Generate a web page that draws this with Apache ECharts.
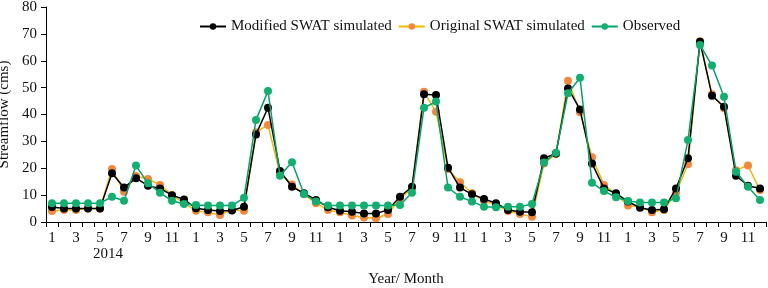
<!DOCTYPE html>
<html>
<head>
<meta charset="utf-8">
<script src="https://cdn.jsdelivr.net/npm/echarts@6/dist/echarts.min.js"></script>
<style>
  html, body { margin: 0; padding: 0; background: #fff; }
  #main { width: 768px; height: 288px; }
</style>
</head>
<body>
<div id="main"></div>
<script>
// months 2014-2018
var months = [];
for (var y = 0; y < 5; y++) {
    for (var m = 1; m <= 12; m++) months.push(String(m));
}

var modified = [
    5.6, 5, 5, 5, 5, 18.1, 12.8, 16.3, 13.5, 12.5, 10, 8.4,
    5.1, 4.5, 4.1, 4.3, 5.7, 32.6, 42.5, 19, 13.1, 10.7, 8.2, 5.5,
    4.2, 3.8, 3.2, 3.2, 4.5, 9.4, 13.1, 47.5, 47.3, 20.2, 12.8, 10.3,
    8.6, 7, 4.5, 3.8, 3.6, 23.7, 25.5, 49.7, 41.9, 21.8, 12.5, 10.7,
    7.6, 5.3, 4.5, 4.7, 12.5, 23.7, 67.1, 47, 42.9, 17.2, 13.5, 12.5
];
var original = [
    4.1, 4.5, 4.5, 5, 5, 19.7, 11.3, 17.1, 16, 13.8, 10, 7,
    4.2, 3.6, 2.6, 4.5, 4.2, 33.4, 36.1, 18, 14, 10.3, 7, 4.5,
    3.6, 2.4, 1.7, 1.4, 3, 8.8, 12.5, 48.5, 41, 19.7, 14.8, 10.7,
    7.8, 6.5, 4.1, 3, 2, 21.8, 25.3, 52.6, 40.8, 24.1, 13.8, 10.4,
    6.1, 5.7, 3.6, 4.5, 10.9, 21.5, 67.3, 47.5, 42.3, 19.3, 21, 11.9
];
var observed = [
    7, 7, 7, 7, 7, 9.4, 7.9, 21, 14.4, 10.9, 7.9, 6.7,
    6.3, 6.1, 6.1, 6.1, 9, 38, 48.7, 17.2, 22.2, 10.4, 7.6, 6.1,
    6.1, 6.1, 6.1, 6.1, 6.1, 6.3, 10.9, 42.5, 44.8, 12.8, 9.4, 7.6,
    5.7, 5.5, 5.7, 5.7, 6.7, 22.1, 25.8, 47.9, 53.7, 14.6, 11.5, 9.2,
    7.8, 7.3, 7.3, 7.3, 8.8, 30.5, 65.9, 58.2, 46.6, 18.7, 13.1, 8.2
];

var seriesNames = ['Modified SWAT simulated', 'Original SWAT simulated', 'Observed'];
var font = '"Liberation Serif", "Times New Roman", serif';

var myChart = echarts.init(document.getElementById('main'));
var option = {
    animation: false,
    textStyle: { fontFamily: font },
    legend: {
        data: seriesNames,
        left: 194,
        top: 14,
        itemWidth: 26,
        itemHeight: 8,
        itemGap: 6,
        textStyle: { fontFamily: font, fontSize: 15, color: '#111' }
    },
    grid: { left: 46, right: 2, top: 7, bottom: 66, outerBoundsMode: 'none' },
    xAxis: {
        type: 'category',
        data: months,
        boundaryGap: true,
        name: 'Year/ Month',
        nameLocation: 'middle',
        nameGap: 50,
        nameTextStyle: { fontFamily: font, fontSize: 15, color: '#111' },
        axisLine: { lineStyle: { color: '#000', width: 1 } },
        axisTick: { show: true, interval: 0, length: 5, lineStyle: { color: '#000' } },
        axisLabel: { interval: 1, margin: 9, fontFamily: font, fontSize: 15, color: '#111' },
        splitLine: { show: false }
    },
    yAxis: {
        type: 'value',
        min: 0,
        max: 80,
        interval: 10,
        name: 'Streamflow (cms)',
        nameLocation: 'middle',
        nameGap: 34,
        nameTextStyle: { fontFamily: font, fontSize: 15, color: '#111' },
        axisLine: { show: true, lineStyle: { color: '#000', width: 1 } },
        axisTick: { show: true, length: 5, lineStyle: { color: '#000' } },
        axisLabel: { margin: 9, fontFamily: font, fontSize: 15, color: '#111' },
        splitLine: { show: false }
    },
    graphic: [{
        type: 'text',
        left: 93,
        top: 247,
        style: { text: '2014', font: '15px ' + font, fill: '#111' }
    }],
    series: [{
        name: seriesNames[0],
        type: 'line',
        data: modified,
        symbol: 'circle',
        symbolSize: 8,
        showAllSymbol: true,
        lineStyle: { color: '#000', width: 1.5 },
        itemStyle: { color: '#000' },
        z: 3
    }, {
        name: seriesNames[1],
        type: 'line',
        data: original,
        symbol: 'circle',
        symbolSize: 8,
        showAllSymbol: true,
        lineStyle: { color: '#f5b800', width: 1.5 },
        itemStyle: { color: '#f5873a' },
        z: 2
    }, {
        name: seriesNames[2],
        type: 'line',
        data: observed,
        symbol: 'circle',
        symbolSize: 8,
        showAllSymbol: true,
        lineStyle: { color: '#00a36c', width: 1.5 },
        itemStyle: { color: '#10b070' },
        z: 4
    }]
};
myChart.setOption(option);
</script>
</body>
</html>
